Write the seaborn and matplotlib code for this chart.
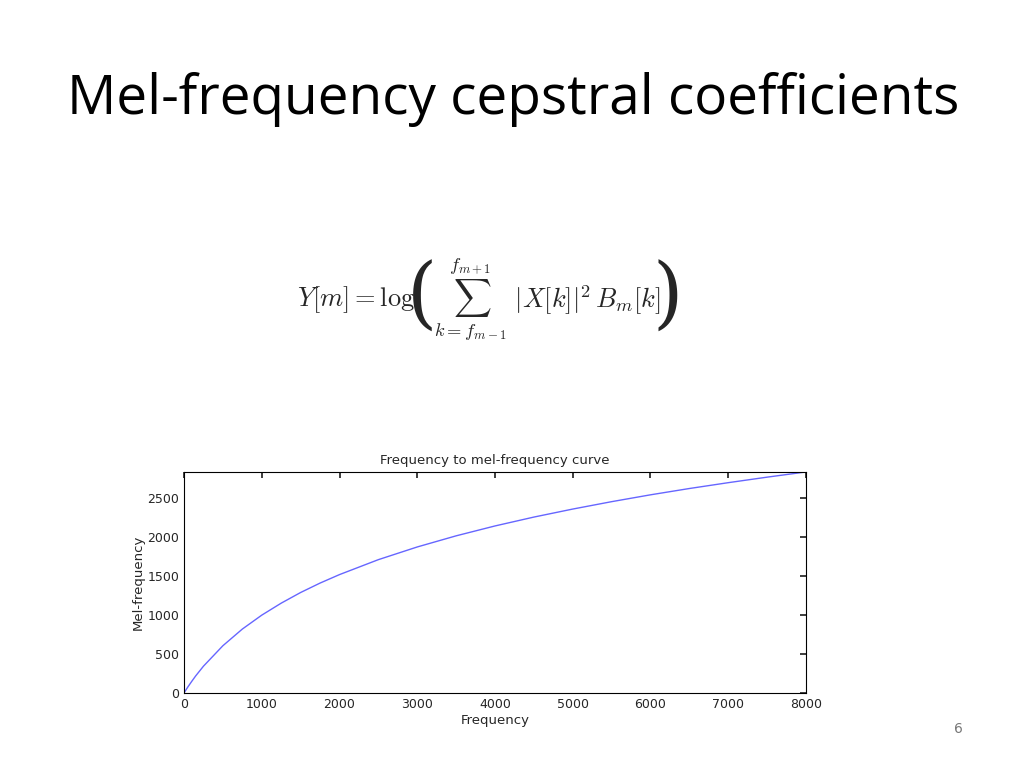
import matplotlib
matplotlib.use("Agg")
import matplotlib.pyplot as plt
import seaborn as sns
import pandas as pd

# values
freq = [0, 50, 100, 150, 250, 500, 750, 1000, 1250, 1500, 1750, 2000, 2500,
        3000, 3500, 4000, 4500, 5000, 5500, 6000, 6500, 7000, 7500, 8000]
mel = [0, 78, 150, 219, 344, 607, 821, 1000, 1154, 1291, 1412, 1521, 1713,
       1876, 2019, 2146, 2260, 2363, 2458, 2546, 2627, 2702, 2773, 2840]
xticks = [0, 1000, 2000, 3000, 4000, 5000, 6000, 7000, 8000]
yticks = [0, 500, 1000, 1500, 2000, 2500]

df = pd.DataFrame({"Frequency": freq, "Mel-frequency": mel})

sns.set_theme(style="white")
plt.rcParams["mathtext.fontset"] = "cm"

fig = plt.figure(figsize=(10.24, 7.68), dpi=100)
fig.text(0.065, 0.87, "Mel-frequency cepstral coefficients",
         fontsize=39.5, family="Open Sans", color="black", va="center")

# formula with separately drawn big parentheses
fig.text(0.405, 0.61, r"$Y[m] = \log$", fontsize=19, ha="right", va="center")
fig.text(0.412, 0.612, "(", fontsize=56, ha="center", va="center",
         family="DejaVu Serif", fontweight="light")
fig.text(0.424, 0.61,
         r"$\sum_{k=f_{m-1}}^{f_{m+1}}\ |X[k]|^2\, B_m[k]$",
         fontsize=19, ha="left", va="center")
fig.text(0.652, 0.612, ")", fontsize=56, ha="center", va="center",
         family="DejaVu Serif", fontweight="light")

fig.text(0.936, 0.045, "6", fontsize=10, color="#777777", ha="center")

ax = fig.add_axes([0.1797, 0.0977, 0.6074, 0.2878])
sns.lineplot(data=df, x="Frequency", y="Mel-frequency", ax=ax,
             color="#6666ff", linewidth=1)
ax.set_xlim(0, 8000)
ax.set_ylim(0, 2840)
ax.set_xticks(xticks)
ax.set_yticks(yticks)
ax.tick_params(direction="in", labelsize=9, length=4, top=True, right=True,
               labeltop=False, labelright=False)
for s in ax.spines.values():
    s.set_color("black")
    s.set_linewidth(0.8)
ax.set_title("Frequency to mel-frequency curve", fontsize=9.5, pad=6)
ax.set_xlabel("Frequency", fontsize=9.5, labelpad=2)
ax.set_ylabel("Mel-frequency", fontsize=9.5, labelpad=2)

fig.savefig("out.png", dpi=100)
